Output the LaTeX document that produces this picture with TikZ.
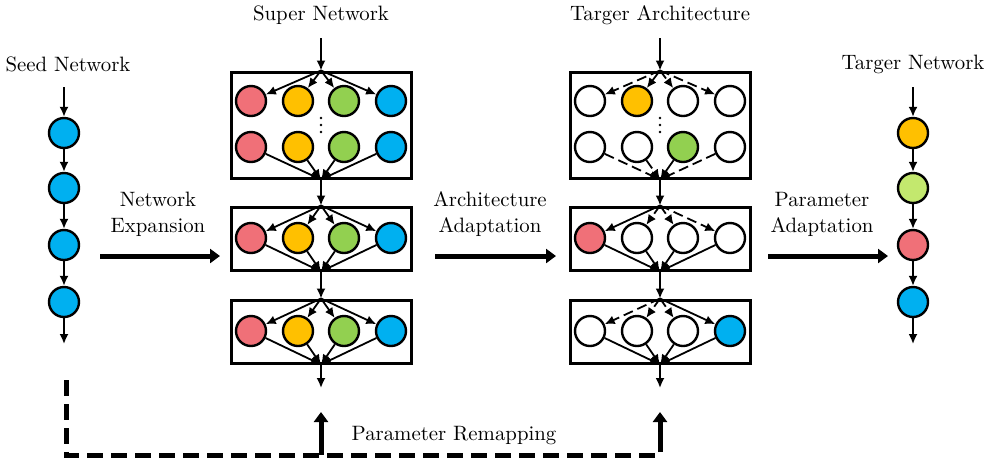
\documentclass[tikz,border=0pt]{standalone}
\usetikzlibrary{arrows.meta}
\definecolor{cred}{HTML}{F07078}
\definecolor{corange}{HTML}{FFC000}
\definecolor{cgreen}{HTML}{92D050}
\definecolor{cblue}{HTML}{00B0F0}
\definecolor{clime}{HTML}{C3E86E}

\begin{document}
\begin{tikzpicture}[x=0.5pt,y=-0.5pt,
    font=\fontsize{10.4}{13}\selectfont,
    cell/.style={circle,draw,line width=1.2pt,minimum size=15pt,inner sep=0pt},
    blk/.style={draw,line width=1.5pt,minimum width=90pt,inner sep=0pt},
    fan/.style={line width=0.9pt,-{Latex[length=5pt,width=4.5pt]}},
    fanoff/.style={fan,dash pattern=on 5pt off 2.5pt},
    lbl/.style={align=center},
    big/.style={line width=2.5pt,-{Triangle[length=5pt,width=7pt]}},
    remap/.style={line width=2.5pt,dash pattern=on 8pt off 4pt,line join=miter},
    dot/.style={circle,fill,inner sep=0pt,minimum size=1.3pt}]
    \useasboundingbox (0,0) rectangle (991,462);

    % seed network
    \node (seedt) at (68,64) {Seed Network};
    \coordinate (s0) at (64,87);
    \node[cell,fill=cblue] (s1) at (64,133) {};
    \node[cell,fill=cblue] (s2) at (64,188) {};
    \node[cell,fill=cblue] (s3) at (64,245) {};
    \node[cell,fill=cblue] (s4) at (64,302) {};
    \coordinate (s5) at (64,344);

    \draw[fan] (s0) to (s1);
    \draw[fan] (s1) to (s2);
    \draw[fan] (s2) to (s3);
    \draw[fan] (s3) to (s4);
    \draw[fan] (s4) to (s5);

    % super network
    \node (supt) at (321,15) {Super Network};
    \coordinate (sp0) at (321,38);
    \node[blk,minimum height=53pt] (spb1) at (321,125) {};
    \node[blk,minimum height=31.5pt] (spb2) at (321,238.5) {};
    \node[blk,minimum height=31.5pt] (spb3) at (321,331.5) {};
    \coordinate (sp5) at (321,388);
    \foreach \y in {118,125,132}
        \node[dot] at (321,\y) {};

    \foreach \dx/\c [count=\i] in {-70/cred,-23/corange,23/cgreen,70/cblue} {
        \node[cell,fill=\c] (sp1\i) at (321+\dx,101) {};
        \node[cell,fill=\c] (sp2\i) at (321+\dx,147) {};
        \node[cell,fill=\c] (sp3\i) at (321+\dx,238) {};
        \node[cell,fill=\c] (sp4\i) at (321+\dx,331) {};
        \draw[fan] (spb1.north) to (sp1\i);
        \draw[fan] (sp2\i) to (spb1.south);
        \draw[fan] (spb2.north) to (sp3\i);
        \draw[fan] (sp3\i) to (spb2.south);
        \draw[fan] (spb3.north) to (sp4\i);
        \draw[fan] (sp4\i) to (spb3.south);
    }

    \draw[fan] (sp0) to (spb1.north);
    \draw[fan] (spb1.south) to (spb2.north);
    \draw[fan] (spb2.south) to (spb3.north);
    \draw[fan] (spb3.south) to (sp5);

    % target architecture
    \node (tat) at (660,15) {Targer Architecture};
    \coordinate (ta0) at (660,38);
    \node[blk,minimum height=53pt] (tab1) at (660,125) {};
    \node[blk,minimum height=31.5pt] (tab2) at (660,238.5) {};
    \node[blk,minimum height=31.5pt] (tab3) at (660,331.5) {};
    \coordinate (ta5) at (660,388);
    \foreach \y in {118,125,132}
        \node[dot] at (660,\y) {};

    \foreach \dx/\ca/\cb/\cc/\cd [count=\i] in
        {-70/white/white/cred/white,-23/corange/white/white/white,
         23/white/cgreen/white/white,70/white/white/white/cblue} {
        \node[cell,fill=\ca] (ta1\i) at (660+\dx,101) {};
        \node[cell,fill=\cb] (ta2\i) at (660+\dx,147) {};
        \node[cell,fill=\cc] (ta3\i) at (660+\dx,238) {};
        \node[cell,fill=\cd] (ta4\i) at (660+\dx,331) {};
        \draw[fan] (ta3\i) to (tab2.south);
        \draw[fan] (ta4\i) to (tab3.south);
    }

    \foreach \i/\s in {1/fanoff,2/fan,3/fanoff,4/fanoff}
        \draw[\s] (tab1.north) to (ta1\i);
    \foreach \i/\s in {1/fanoff,2/fanoff,3/fan,4/fanoff}
        \draw[\s] (ta2\i) to (tab1.south);
    \foreach \i/\s in {1/fan,2/fanoff,3/fanoff,4/fanoff}
        \draw[\s] (tab2.north) to (ta3\i);
    \foreach \i/\s in {1/fanoff,2/fanoff,3/fanoff,4/fan}
        \draw[\s] (tab3.north) to (ta4\i);

    \draw[fan] (ta0) to (tab1.north);
    \draw[fan] (tab1.south) to (tab2.north);
    \draw[fan] (tab2.south) to (tab3.north);
    \draw[fan] (tab3.south) to (ta5);

    % target network
    \node (tnt) at (913,64) {Targer Network};
    \coordinate (t0) at (913,87);
    \node[cell,fill=corange] (t1) at (913,133) {};
    \node[cell,fill=clime] (t2) at (913,188) {};
    \node[cell,fill=cred] (t3) at (913,245) {};
    \node[cell,fill=cblue] (t4) at (913,302) {};
    \coordinate (t5) at (913,344);

    \draw[fan] (t0) to (t1);
    \draw[fan] (t1) to (t2);
    \draw[fan] (t2) to (t3);
    \draw[fan] (t3) to (t4);
    \draw[fan] (t4) to (t5);

    % stage arrows
    \node[lbl] (net) at (158,214) {Network\\Expansion};
    \coordinate (ne0) at (100,256);
    \coordinate (ne1) at (220,256);
    \draw[big] (ne0) to (ne1);

    \node[lbl] (aat) at (490,214) {Architecture\\Adaptation};
    \coordinate (aa0) at (435,256);
    \coordinate (aa1) at (556,256);
    \draw[big] (aa0) to (aa1);

    \node[lbl] (pat) at (822,214) {Parameter\\Adaptation};
    \coordinate (pa0) at (768,256);
    \coordinate (pa1) at (888,256);
    \draw[big] (pa0) to (pa1);

    % parameter remapping
    \coordinate (rm0) at (66,380);
    \coordinate (rm1) at (66,455);
    \coordinate (rm2) at (321,455);
    \coordinate (rm3) at (660,455);
    \coordinate (rm4) at (660,446);
    \coordinate (rma) at (321,412);
    \coordinate (rmb) at (660,412);
    \node (rmt) at (454,436) {Parameter Remapping};

    \draw[remap] (rm0) -- (rm1) -- (rm3) -- (rm4);
    \draw[big] (rm2) to (rma);
    \draw[big] (rm4) to (rmb);
\end{tikzpicture}
\end{document}
